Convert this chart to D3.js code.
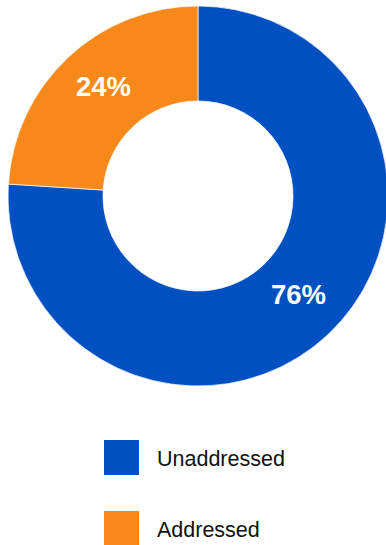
<!DOCTYPE html>
<html>
<head>
    <script src="https://d3js.org/d3.v7.min.js"></script>
    <style>
        body { margin: 0; background: #fff; }
        svg { display: block; font-family: "Liberation Sans", Arial, sans-serif; }
    </style>
</head>
<body>
    <div id="chart"></div>
    <script>
        const categories = ["Unaddressed", "Addressed"];
        const values = [76, 24];
        const colors = ["#0050C2", "#F7891A"];

        const width = 386, height = 545;
        const cx = 198, cy = 196;
        const outerR = 190, innerR = 95;

        const data = categories.map((c, i) => ({ name: c, value: values[i], color: colors[i] }));

        const svg = d3.select("#chart").append("svg")
            .attr("width", width)
            .attr("height", height);

        const pie = d3.pie().sort(null).value(d => d.value);
        const arc = d3.arc().innerRadius(innerR).outerRadius(outerR);
        const labelArc = d3.arc().innerRadius((innerR + outerR) / 2).outerRadius((innerR + outerR) / 2);

        const g = svg.append("g").attr("transform", "translate(" + cx + "," + cy + ")");
        const arcs = pie(data);

        g.selectAll("path")
            .data(arcs)
            .enter().append("path")
            .attr("d", arc)
            .attr("fill", d => d.data.color)
            .attr("stroke", "#fff")
            .attr("stroke-width", 0.7);

        g.selectAll("text.pct")
            .data(arcs)
            .enter().append("text")
            .attr("class", "pct")
            .attr("x", d => labelArc.centroid(d)[0] + 3)
            .attr("y", d => labelArc.centroid(d)[1] + 4)
            .attr("text-anchor", "middle")
            .attr("fill", "#fff")
            .style("font-size", "27.5px")
            .style("font-weight", "bold")
            .text(d => d.data.value + "%");

        // legend
        const legend = svg.append("g");
        const item = legend.selectAll("g")
            .data(data)
            .enter().append("g")
            .attr("transform", (d, i) => "translate(104," + (440 + i * 71) + ")");

        item.append("rect")
            .attr("width", 35)
            .attr("height", 35)
            .attr("fill", d => d.color);

        item.append("text")
            .attr("x", 53)
            .attr("y", 26)
            .attr("fill", "#111")
            .style("font-size", "21.5px")
            .text(d => d.name);
    </script>
</body>
</html>
